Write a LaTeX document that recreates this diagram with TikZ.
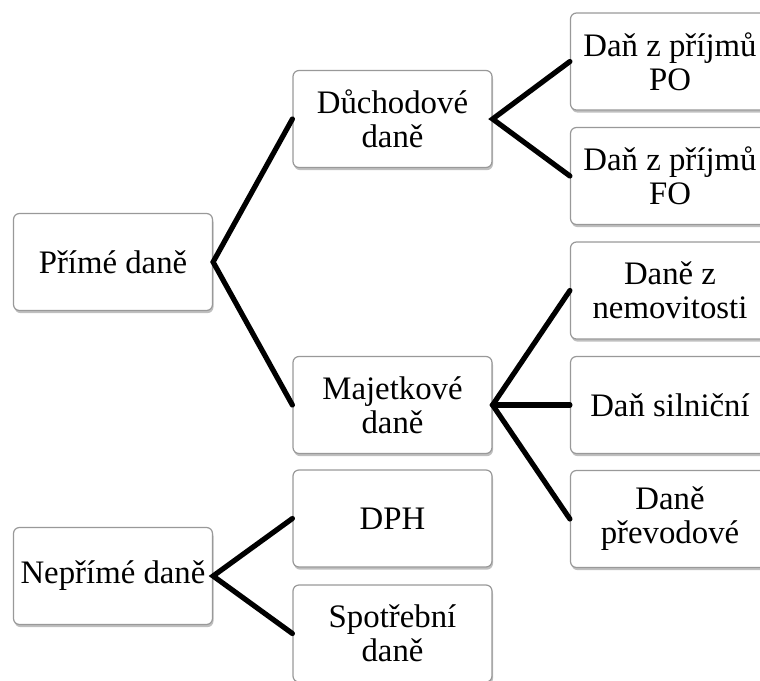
\documentclass[tikz,border=0pt]{standalone}
\usepackage{fontspec}
\setmainfont{Liberation Serif}
\usepackage{tikz}
\usetikzlibrary{positioning, shadows}

\begin{document}
\begin{tikzpicture}[
        x=0.5pt, y=-0.5pt,
        every node/.style={font=\fontsize{16.4}{17}\selectfont},
        box/.style={rectangle, rounded corners=3pt, draw=gray!80, fill=white, line width=0.6pt,
            minimum width=99.5pt, minimum height=48.5pt, align=center, inner sep=2pt,
            drop shadow={shadow xshift=0.5pt, shadow yshift=-1.3pt, opacity=0.5, fill=gray}},
        link/.style={line width=2.6pt, line cap=round}
    ]
        \clip (0,0) rectangle (760,680);
        % Left column
        \node[box] (prime) at (113,262) {Přímé daně};
        \node[box] (neprime) at (113,576) {Nepřímé daně};
        % Middle column
        \node[box] (duch) at (392.5,119) {Důchodové\\daně};
        \node[box] (majet) at (392.5,405) {Majetkové\\daně};
        \node[box] (dph) at (392.5,518.5) {DPH};
        \node[box] (spotr) at (392.5,633.5) {Spotřební\\daně};
        % Right column
        \node[box] (po) at (670,61.5) {Daň z příjmů\\PO};
        \node[box] (fo) at (670,176) {Daň z příjmů\\FO};
        \node[box] (nemov) at (670,290.5) {Daně z\\nemovitosti};
        \node[box] (silnic) at (670,405) {Daň silniční};
        \node[box] (prevod) at (670,519) {Daně\\převodové};
        % Connectors
        \draw[link] (duch.west) -- (prime.east) -- (majet.west);
        \draw[link] (dph.west) -- (neprime.east) -- (spotr.west);
        \draw[link] (po.west) -- (duch.east) -- (fo.west);
        \draw[link] (nemov.west) -- (majet.east) -- (prevod.west);
        \draw[link] (majet.east) -- (silnic.west);
    \end{tikzpicture}
\end{document}
